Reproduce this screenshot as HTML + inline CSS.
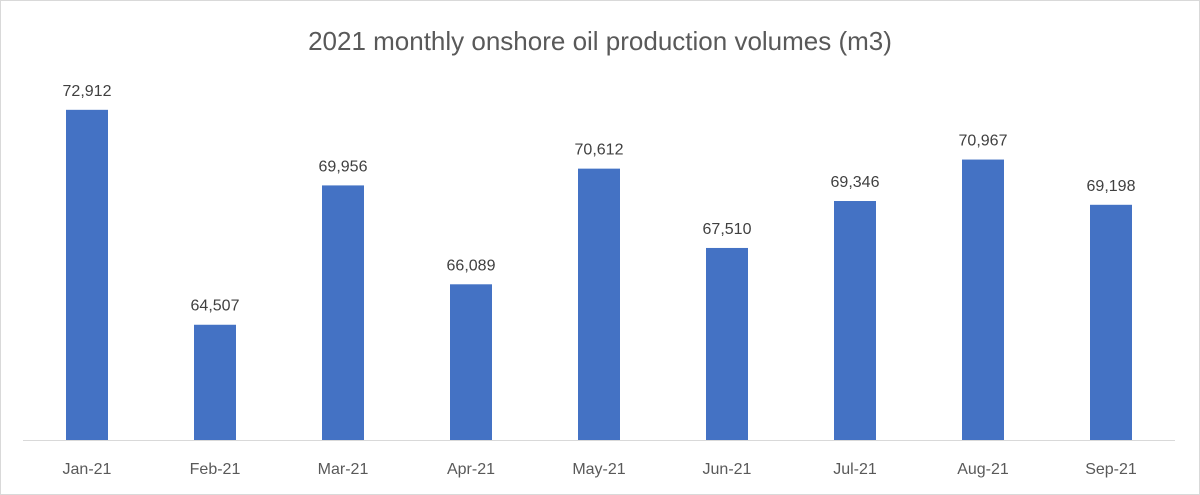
<!DOCTYPE html>
<html><head><meta charset="utf-8"><style>
body{margin:0;background:#fff;}
svg{display:block;font-family:"Liberation Sans",sans-serif;}
</style></head><body>
<svg id="chart" width="1200" height="495">
<rect x="0.5" y="0.5" width="1199" height="494" fill="#fff" stroke="#d9d9d9"/>
<text x="600" y="50" text-anchor="middle" font-size="26" fill="#595959">2021 monthly onshore oil production volumes (m3)</text>
<line x1="23" y1="440.5" x2="1175" y2="440.5" stroke="#d9d9d9"/>
<g id="bars"></g>
</svg>
<script>
const categories=["Jan-21","Feb-21","Mar-21","Apr-21","May-21","Jun-21","Jul-21","Aug-21","Sep-21"];
const values=[72912,64507,69956,66089,70612,67510,69346,70967,69198];
const yMin=60000,yMax=74000;
const plotLeft=23,plotRight=1175,plotBottom=440,plotTop=82;
function xScale(i){const w=(plotRight-plotLeft)/categories.length;return plotLeft+w*(i+0.5);}
function yScale(v){return plotBottom-(v-yMin)/(yMax-yMin)*(plotBottom-plotTop);}
const g=document.getElementById('bars');
const ns="http://www.w3.org/2000/svg";
categories.forEach((c,i)=>{
  const cx=xScale(i),y=yScale(values[i]);
  const r=document.createElementNS(ns,'rect');
  r.setAttribute('x',cx-21);r.setAttribute('y',y);r.setAttribute('width',42);r.setAttribute('height',plotBottom-y);r.setAttribute('fill','#4472c4');
  
  
  g.appendChild(r);
  const t=document.createElementNS(ns,'text');
  t.setAttribute('x',cx);t.setAttribute('y',y-14);t.setAttribute('text-anchor','middle');t.setAttribute('font-size','16');t.setAttribute('fill','#404040');
  t.textContent=values[i].toLocaleString('en-US');
  
  
  g.appendChild(t);
  const l=document.createElementNS(ns,'text');
  l.setAttribute('x',cx);l.setAttribute('y',474);l.setAttribute('text-anchor','middle');l.setAttribute('font-size','16');l.setAttribute('fill','#595959');
  l.textContent=c;
  
  
  g.appendChild(l);
});
</script>
</body></html>
